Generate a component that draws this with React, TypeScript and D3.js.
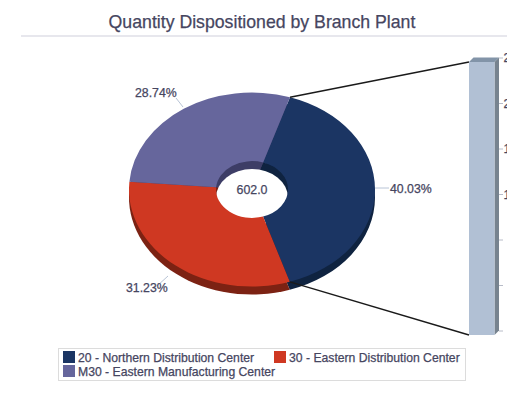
import React from "react";
import * as d3 from "d3";

const branches = ["20 - Northern Distribution Center", "30 - Eastern Distribution Center", "M30 - Eastern Manufacturing Center"];
const quantities = [241, 188, 173];
const percentLabels = ["40.03%", "31.23%", "28.74%"];
const topColors = ["#1b3563", "#cf3822", "#66669c"];
const sideColors = ["#0f2340", "#7c2213", "#3d3d66"];
const totalLabel = "602.0";
const axisTicks = [0, 40, 80, 120, 160, 200, 240];
const title = "Quantity Dispositioned by Branch Plant";

const W = 507, H = 402;
const cx = 252, cy = 189.5, R = 123, Ry = 97, r = 36, depth = 8;
const yScaleFactor = Ry / R;
const textColor = "#46465f";
const font = "'Liberation Sans', Arial, sans-serif";
const heavy = { stroke: textColor, strokeWidth: 0.25 };

export default function App() {
  const start = (18 * Math.PI) / 180;
  const pie = d3.pie<number>().sort(null).startAngle(start).endAngle(start + 2 * Math.PI);
  const arcs = pie(quantities);
  const ring = d3.arc<d3.PieArcDatum<number>>().innerRadius(r).outerRadius(R);
  const disc = d3.arc<d3.PieArcDatum<number>>().innerRadius(0).outerRadius(R);
  const holeDisc = d3.arc<d3.PieArcDatum<number>>().innerRadius(0).outerRadius(r);
  const face = (k: number) => `translate(${cx},${cy + k}) scale(1,${yScaleFactor})`;

  const pt = (a: number, rad: number) => [cx + rad * Math.sin(a), cy - rad * yScaleFactor * Math.cos(a)];
  const [ax, ay] = pt(arcs[0].startAngle, R);
  const [bx, by] = pt(arcs[0].endAngle, R);

  const barY = d3.scaleLinear().domain([0, 240]).range([331, 58]);
  const barLeft = 469, barRight = 494.5, barD = 4.5;
  const barTop = 62, barBottom = 335;

  const labelPos: { x: number; y: number; line: number[] }[] = [
    { x: 390, y: 193, line: [375, 188, 389, 188] },
    { x: 126, y: 292, line: [168, 276, 157, 286] },
    { x: 135, y: 97, line: [183, 107, 176, 98] },
  ];

  return (
    <svg width={W} height={H} viewBox={`0 0 ${W} ${H}`} style={{ position: "fixed", left: 0, top: 0, background: "#fff" }} fontFamily={font}>
      <text x={262} y={28} textAnchor="middle" fontSize={17.7} fill={textColor} {...heavy}>{title}</text>
      <line x1={21} x2={507} y1={36} y2={36} stroke="#cfcfdc" strokeWidth={1.2} />

      {/* pie extrusion */}
      {arcs.map((a, i) => <path key={i} d={disc(a) ?? ""} transform={face(depth)} fill={sideColors[i]} />)}
      {/* hole wall */}
      {arcs.map((a, i) => <path key={i} d={holeDisc(a) ?? ""} transform={face(0)} fill={sideColors[i]} />)}
      <ellipse cx={cx} cy={cy + depth} rx={r} ry={r * yScaleFactor} fill="#fff" />
      {/* top face */}
      {arcs.map((a, i) => <path key={i} d={ring(a) ?? ""} transform={face(0)} fill={topColors[i]} />)}
      <text x={cx} y={cy + 4} textAnchor="middle" fontSize={12.4} fill={textColor} {...heavy}>{totalLabel}</text>

      {/* connectors */}
      <line x1={ax} y1={ay} x2={barLeft} y2={barTop} stroke="#1a1a1a" strokeWidth={1.4} />
      <line x1={bx} y1={by} x2={barLeft} y2={barBottom} stroke="#1a1a1a" strokeWidth={1.4} />

      {/* percent labels */}
      {labelPos.map((l, i) => (
        <g key={i}>
          <line x1={l.line[0]} y1={l.line[1]} x2={l.line[2]} y2={l.line[3]} stroke="#b8c4d6" />
          <text x={l.x} y={l.y} fontSize={12.3} fill={textColor} {...heavy}>{percentLabels[i]}</text>
        </g>
      ))}

      {/* stacked bar */}
      <polygon points={`${barLeft},${barTop} ${barLeft + barD},${barTop - barD} ${barRight + barD},${barTop - barD} ${barRight},${barTop}`} fill="#8294a8" />
      <polygon points={`${barRight},${barTop} ${barRight + barD},${barTop - barD} ${barRight + barD},${barBottom - barD} ${barRight},${barBottom}`} fill="#77838f" />
      <rect x={barLeft} y={barTop} width={barRight - barLeft} height={barBottom - barTop} fill="#b1c0d4" />
      {axisTicks.map((t) => (
        <g key={t}>
          <line x1={499} x2={503} y1={barY(t)} y2={barY(t)} stroke="#b8bcc8" />
          <text x={524} y={barY(t) + 4} textAnchor="end" fontSize={12.3} fill={textColor} {...heavy}>{t}</text>
        </g>
      ))}

      {/* legend */}
      <rect x={58.5} y={348.5} width={407} height={32} fill="#fff" stroke="#dcdcdc" />
      {branches.map((b, i) => {
        const x = [63, 274, 63][i], y = [351, 351, 365][i];
        return (
          <g key={i}>
            <rect x={x} y={y} width={12} height={12} fill={topColors[i]} />
            <text x={x + 15} y={y + 11} fontSize={12.2} fill={textColor} {...heavy}>{b}</text>
          </g>
        );
      })}
    </svg>
  );
}
